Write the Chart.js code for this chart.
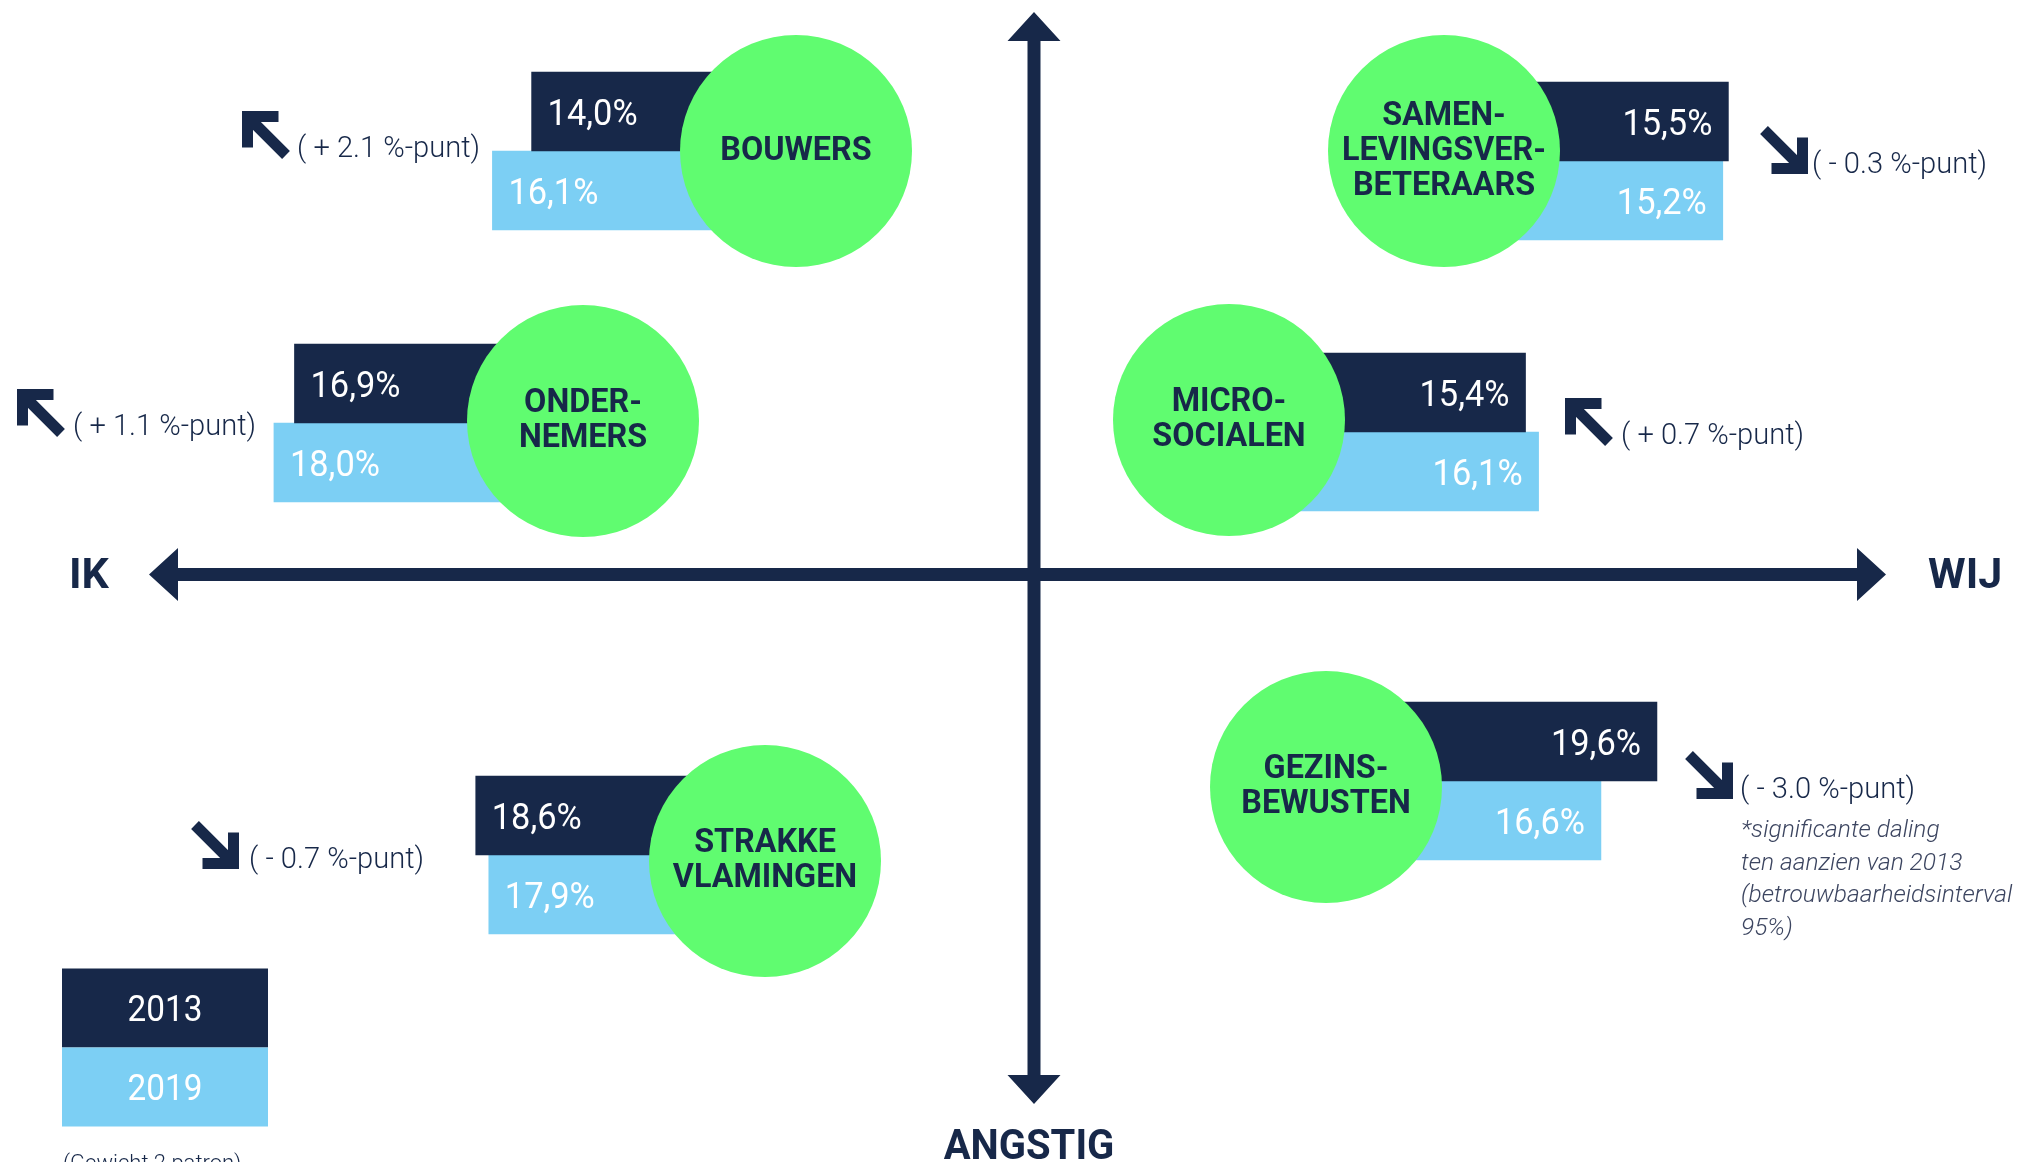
<!DOCTYPE html>
<html lang="nl">
<head>
    <meta charset="UTF-8">
    <title>Segmenten 2013 - 2019</title>
    <script src="https://cdn.jsdelivr.net/npm/chart.js@4.4.1/dist/chart.umd.min.js"></script>
    <style>
        html, body { margin: 0; padding: 0; background: #ffffff; overflow: hidden; }
        #grafico { display: block; }
    </style>
</head>
<body>
<canvas id="grafico" width="2033" height="1162"></canvas>

<script>
    // data
    const segmenten = ['Bouwers', 'Ondernemers', 'Strakke Vlamingen', 'Samenlevingsverbeteraars', 'Microsocialen', 'Gezinsbewusten'];
    const cirkelTekst = [
        ['BOUWERS'],
        ['ONDER-', 'NEMERS'],
        ['STRAKKE', 'VLAMINGEN'],
        ['SAMEN-', 'LEVINGSVER-', 'BETERAARS'],
        ['MICRO-', 'SOCIALEN'],
        ['GEZINS-', 'BEWUSTEN']
    ];
    const jaren = ['2013', '2019'];
    const aandeel2013 = [14.0, 16.9, 18.6, 15.5, 15.4, 19.6];
    const aandeel2019 = [16.1, 18.0, 17.9, 15.2, 16.1, 16.6];
    const asLabels = ['IK', 'WIJ', 'ANGSTIG'];
    const voetnoot = ['*significante daling', 'ten aanzien van 2013', '(betrouwbaarheidsinterval', '95%)'];
    const bron = '(Gewicht 2 patron)';

    // layout (pixels of the 2033x1162 canvas)
    const PX_PER_PT = 18.67;
    const BALK_H = 79;
    const CIRKEL_R = 116;
    const cirkelX = [796, 583, 765, 1444, 1229, 1326];
    const cirkelY = [151, 421, 861, 151, 420, 787];
    const balkBasis = [793, 610, 823, 1439, 1238, 1291];
    const balkKant = [-1, -1, -1, 1, 1, 1];
    const balkRij = [151, 423, 855, 161, 432, 781];
    const pijlX = [242, 17, 192, 1761, 1565, 1686];
    const pijlY = [111, 389, 822, 127, 398, 752];
    const deltaX = [297, 73, 249, 1812, 1621, 1740];

    const NAVY = '#172849';
    const BLAUW = '#7ccff4';
    const GROEN = '#60fc70';
    const FONT = 'Roboto, "Liberation Sans", sans-serif';

    function balkData(waarden) {
        return waarden.map((v, i) => {
            const b = balkBasis[i];
            const eind = b + balkKant[i] * v * PX_PER_PT;
            return { y: balkRij[i], x: balkKant[i] < 0 ? [eind, b] : [b, eind] };
        });
    }

    function tekst(ctx, str, x, y, opt) {
        ctx.save();
        ctx.font = (opt.style || 'normal') + ' ' + (opt.weight || 400) + ' ' + opt.size + 'px ' + FONT;
        ctx.fillStyle = opt.color || NAVY;
        ctx.textAlign = opt.align || 'left';
        ctx.textBaseline = 'alphabetic';
        ctx.translate(x, y);
        ctx.scale(opt.h || 1, 1);
        ctx.fillText(str, 0, 0);
        ctx.restore();
    }

    function pijl(ctx, x0, y0, omhoog) {
        const s = 47, lw = 11, arm = 31;
        ctx.save();
        ctx.strokeStyle = NAVY;
        ctx.lineWidth = lw;
        ctx.lineJoin = 'miter';
        ctx.lineCap = 'butt';
        ctx.beginPath();
        if (omhoog) {
            const cx = x0 + lw / 2, cy = y0 + lw / 2;
            ctx.moveTo(cx + arm, cy);
            ctx.lineTo(cx, cy);
            ctx.lineTo(cx, cy + arm);
            ctx.moveTo(cx, cy);
            ctx.lineTo(x0 + s - 3, y0 + s - 3);
        } else {
            const cx = x0 + s - lw / 2, cy = y0 + s - lw / 2;
            ctx.moveTo(cx - arm, cy);
            ctx.lineTo(cx, cy);
            ctx.lineTo(cx, cy - arm);
            ctx.moveTo(cx, cy);
            ctx.lineTo(x0 + 3, y0 + 3);
        }
        ctx.stroke();
        ctx.restore();
    }

    function asPijl(ctx, x1, y1, x2, y2) {
        // shaft + triangular head at (x2, y2)
        const kop = 29, half = 26.5, dik = 13;
        const dx = x2 - x1, dy = y2 - y1, len = Math.hypot(dx, dy);
        const ux = dx / len, uy = dy / len, px = -uy, py = ux;
        ctx.save();
        ctx.fillStyle = NAVY;
        ctx.beginPath();
        ctx.moveTo(x1 + px * dik / 2, y1 + py * dik / 2);
        ctx.lineTo(x2 - ux * kop + px * dik / 2, y2 - uy * kop + py * dik / 2);
        ctx.lineTo(x2 - ux * kop + px * half, y2 - uy * kop + py * half);
        ctx.lineTo(x2, y2);
        ctx.lineTo(x2 - ux * kop - px * half, y2 - uy * kop - py * half);
        ctx.lineTo(x2 - ux * kop - px * dik / 2, y2 - uy * kop - py * dik / 2);
        ctx.lineTo(x1 - px * dik / 2, y1 - py * dik / 2);
        ctx.closePath();
        ctx.fill();
        ctx.restore();
    }

    const kwadrantPlugin = {
        id: 'kwadrant',
        beforeDatasetsDraw(chart) {
            const ctx = chart.ctx;
            const X = v => chart.scales.x.getPixelForValue(v);
            const Y = v => chart.scales.y.getPixelForValue(v);
            const mx = X(1034), my = Y(574.5);
            asPijl(ctx, mx, my, mx, Y(12));
            asPijl(ctx, mx, my, mx, Y(1104));
            asPijl(ctx, mx, my, X(149), my);
            asPijl(ctx, mx, my, X(1886), my);
        },
        afterDatasetsDraw(chart) {
            const ctx = chart.ctx;
            const X = v => chart.scales.x.getPixelForValue(v);
            const Y = v => chart.scales.y.getPixelForValue(v);

            // waarden in de balken
            [aandeel2013, aandeel2019].forEach((reeks, d) => {
                const meta = chart.getDatasetMeta(d);
                reeks.forEach((v, i) => {
                    const buiten = X(balkBasis[i] + balkKant[i] * v * PX_PER_PT);
                    const yc = meta.data[i].y;
                    const lbl = v.toFixed(1).replace('.', ',') + '%';
                    const links = balkKant[i] < 0;
                    tekst(ctx, lbl, links ? buiten + 16 : buiten - 16, yc + 0.355 * 37,
                        { size: 37, color: '#ffffff', align: links ? 'left' : 'right', h: 0.93 });
                });
            });

            // namen in de cirkels
            cirkelTekst.forEach((regels, i) => {
                const midden = Y(cirkelY[i]) - 3;
                regels.forEach((r, j) => {
                    const y = midden - (regels.length - 1) * 35 / 2 + j * 35 + 0.355 * 33;
                    tekst(ctx, r, X(cirkelX[i]), y, { size: 33, weight: 700, align: 'center', h: 0.98 });
                });
            });

            // verschil 2013 -> 2019
            segmenten.forEach((s, i) => {
                const d = aandeel2019[i] - aandeel2013[i];
                pijl(ctx, X(pijlX[i]), Y(pijlY[i]), d > 0);
                const lbl = '( ' + (d > 0 ? '+' : '-') + ' ' + Math.abs(d).toFixed(1) + ' %-punt)';
                tekst(ctx, lbl, X(deltaX[i]), Y(pijlY[i]) + 35 + 0.355 * 30, { size: 30, weight: 300, h: 0.97 });
            });

            voetnoot.forEach((r, j) => {
                tekst(ctx, r, X(1741), Y(837) + j * 32.5, { size: 24.5, weight: 300, style: 'italic', color: '#3c4560' });
            });

            // as-labels
            tekst(ctx, asLabels[0], X(69), Y(588), { size: 43, weight: 700 });
            tekst(ctx, asLabels[1], X(1928), Y(588), { size: 43, weight: 700 });
            tekst(ctx, asLabels[2], X(1029), Y(1159), { size: 43, weight: 700, align: 'center', h: 0.93 });

            // legende
            [NAVY, BLAUW].forEach((kleur, j) => {
                const top = Y(968.5 + j * 79);
                ctx.fillStyle = kleur;
                ctx.fillRect(X(62), top, X(268) - X(62), 79);
                tekst(ctx, jaren[j], X(165), top + 39.5 + 0.355 * 37, { size: 37, color: '#ffffff', align: 'center', h: 0.9 });
            });

            tekst(ctx, bron, X(63), Y(1170), { size: 22, weight: 300 });
        }
    };

    const ctx = document.getElementById('grafico').getContext('2d');

    new Chart(ctx, {
        type: 'bar',
        data: {
            datasets: [
                {
                    label: jaren[0],
                    data: balkData(aandeel2013),
                    indexAxis: 'y',
                    backgroundColor: NAVY,
                    barThickness: BALK_H,
                    order: 2
                },
                {
                    label: jaren[1],
                    data: balkData(aandeel2019),
                    indexAxis: 'y',
                    backgroundColor: BLAUW,
                    barThickness: BALK_H,
                    order: 2
                },
                {
                    type: 'bubble',
                    label: 'segment',
                    data: cirkelX.map((x, i) => ({ x: x, y: cirkelY[i], r: CIRKEL_R })),
                    backgroundColor: GROEN,
                    borderWidth: 0,
                    clip: false,
                    order: 0
                }
            ]
        },
        options: {
            indexAxis: 'y',
            responsive: false,
            animation: false,
            events: [],
            layout: { padding: 0, autoPadding: false },
            plugins: {
                legend: { display: false },
                tooltip: { enabled: false }
            },
            scales: {
                x: { type: 'linear', min: 0, max: 2033, offset: false, display: false },
                y: { type: 'linear', min: 0, max: 1162, reverse: true, offset: false, display: false }
            }
        },
        plugins: [kwadrantPlugin]
    });
</script>
</body>
</html>
